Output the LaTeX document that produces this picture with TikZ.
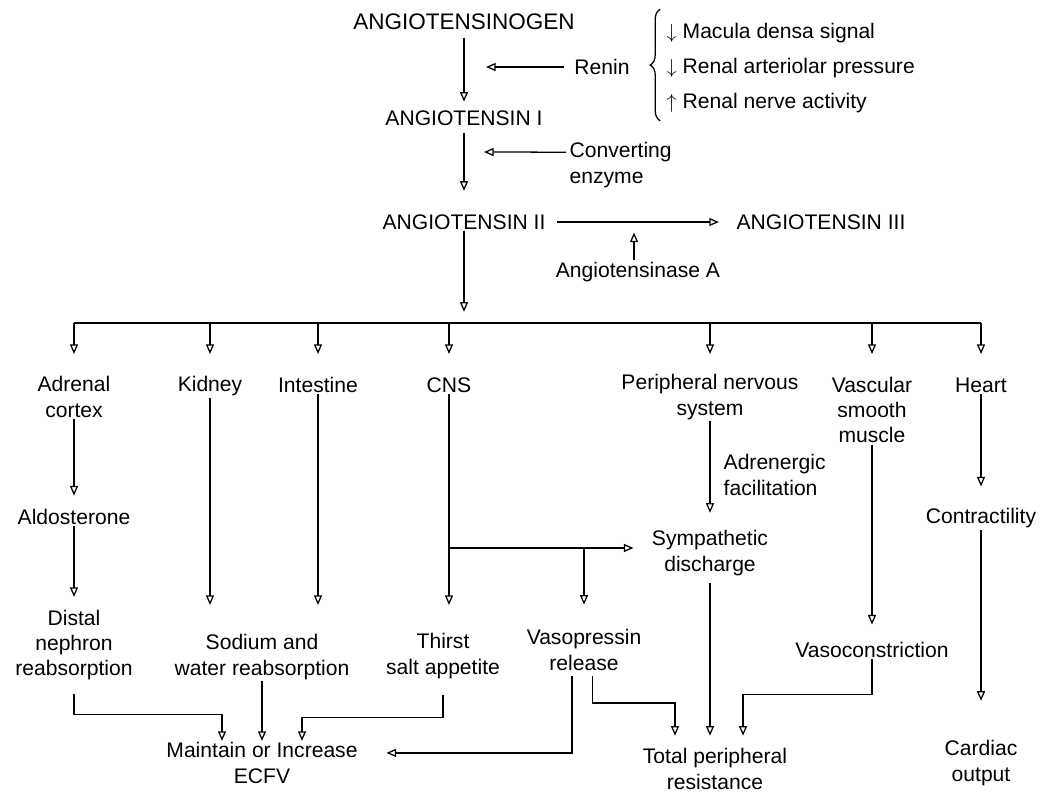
\documentclass[tikz,border=0pt]{standalone}
\usepackage{fontspec}
\setmainfont{Liberation Sans}
\usetikzlibrary{positioning, arrows.meta, decorations.pathreplacing}

\begin{document}
\begin{tikzpicture}[
    x=0.025cm, y=-0.025cm,
    txt/.style={font=\fontsize{15}{18}\selectfont, align=center, inner sep=1pt},
    big/.style={font=\fontsize{16}{19}\selectfont, inner sep=1pt},
    arrow/.style={-{Triangle[open, length=2.4mm, width=2mm]}, line width=0.9pt},
    wire/.style={line width=0.9pt},
    brace/.style={decorate, decoration={brace, amplitude=0.25cm}, line width=0.9pt}
]
\useasboundingbox (0,0) rectangle (1046,798);

% Cascade at the top
\node[big] (agen) at (464, 22) {ANGIOTENSINOGEN};
\node[txt] (ang1) at (464, 118) {ANGIOTENSIN I};
\node[txt] (ang2) at (464, 222) {ANGIOTENSIN II};
\node[txt] (ang3) at (821, 222) {ANGIOTENSIN III};
\node[txt] (renin) at (602, 67) {Renin};
\node[txt, align=left, anchor=west] (conv) at (568, 165) {Converting\\enzyme};
\node[txt] (angase) at (638, 272) {Angiotensinase A};
\node[txt, align=left, anchor=west, font=\fontsize{15}{25}\selectfont] (stim) at (665, 68)
    {$\downarrow$ Macula densa signal\\$\downarrow$ Renal arteriolar pressure\\$\uparrow$ Renal nerve activity};

\coordinate (c1) at (486, 67);
\coordinate (c2) at (484, 152);

\draw[arrow, shorten <=0.15cm, shorten >=0.18cm] (agen) -- (ang1);
\draw[arrow, shorten <=0.15cm, shorten >=0.55cm] (ang1) -- (ang2);
\draw[arrow, shorten <=0.22cm] (renin) -- (c1);
\draw[arrow, shorten <=0.05cm] ([yshift=0.32cm]conv.west) -- (c2);
\draw[arrow, shorten <=0.25cm, shorten >=0.4cm] (ang2) -- (ang3);
\draw[arrow] ([xshift=-0.1cm]angase.north) -- ++(0,-28);
\draw[brace] ([xshift=-0.12cm, yshift=-0.15cm]stim.south west) -- ([xshift=-0.12cm, yshift=0.3cm]stim.north west);

% Target organs
\node[txt] (adr) at (74, 397) {Adrenal\\cortex};
\node[txt] (kid) at (210, 386) {Kidney};
\node[txt] (intest) at (318, 385) {Intestine};
\node[txt] (cns) at (449, 385) {CNS};
\node[txt] (pns) at (710, 397) {Peripheral nervous\\system};
\node[txt] (vsm) at (872, 410) {Vascular\\smooth\\muscle};
\node[txt] (heart) at (981, 385) {Heart};

\coordinate (busL) at (0, 323);
\coordinate (tips) at (0, 354);
\coordinate (r4tip) at (0, 605);
\coordinate (symy) at (0, 548);

\draw[arrow, shorten >=0.28cm] (ang2) -- (ang2 |- busL);
\draw[wire] (adr |- busL) -- (heart |- busL);
\foreach \n in {adr, kid, intest, cns, pns, vsm, heart}
    \draw[arrow] (\n |- busL) -- (\n |- tips);

% Effects
\node[txt] (aldo) at (74, 517) {Aldosterone};
\node[txt] (dist) at (74, 645) {Distal\\nephron\\reabsorption};
\node[txt] (sod) at (262, 657) {Sodium and\\water reabsorption};
\node[txt] (thirst) at (443, 656) {Thirst\\salt appetite};
\node[txt] (vaso) at (584, 650) {Vasopressin\\release};
\node[txt] (sym) at (710, 553) {Sympathetic\\discharge};
\node[txt, align=left, anchor=west] (adrfac) at (722, 475) {Adrenergic\\facilitation};
\node[txt] (vasocon) at (872, 650) {Vasoconstriction};
\node[txt] (contract) at (981, 518) {Contractility};
\node[txt] (cardiac) at (981, 763) {Cardiac\\output};
\node[txt] (maint) at (262, 763) {Maintain or Increase\\ECFV};
\node[txt] (tpr) at (715, 769) {Total peripheral\\resistance};

\draw[arrow, shorten >=0.3cm] (adr) -- (aldo);
\draw[arrow, shorten >=0.28cm] (aldo) -- (dist);
\draw[arrow] (kid) -- (kid |- r4tip);
\draw[arrow] (intest) -- (intest |- r4tip);
\draw[arrow] (cns) -- (cns |- r4tip);
\draw[arrow, shorten >=0.42cm] (cns |- symy) -- (sym.west |- symy);
\draw[arrow, shorten >=0.58cm] (vaso |- symy) -- (vaso);
\draw[arrow, shorten >=0.4cm] (pns) -- (sym);
\draw[arrow, shorten >=0.4cm] (vsm) -- (vasocon);
\draw[arrow, shorten >=0.5cm] (heart) -- (contract);
\draw[arrow, shorten >=0.95cm] (contract) -- (cardiac);

% Into ECFV
\draw[arrow, shorten <=0.3cm] (dist.south) -- ++(0,33) -| ([xshift=-1cm]maint.north);
\draw[arrow] (sod.south) -- (sod.south |- maint.north);
\draw[arrow, shorten <=0.37cm] (thirst.south) -- ++(0,37) -| ([xshift=1cm]maint.north);
\draw[arrow, shorten <=0.1cm] ([xshift=-0.3cm]vaso.south) |- ([xshift=0.68cm, yshift=-0.3cm]maint.north east);

% Into total peripheral resistance
\draw[arrow, shorten <=0.1cm, shorten >=0.28cm] ([xshift=0.22cm]vaso.south) -- ++(0,31) -| ([xshift=-1cm]tpr.north);
\draw[arrow, shorten <=0.15cm, shorten >=0.28cm] (sym) -- (sym |- tpr.north);
\draw[arrow, shorten >=0.28cm] (vasocon.south) -- ++(0,35) -| ([xshift=0.7cm]tpr.north);

\end{tikzpicture}
\end{document}
